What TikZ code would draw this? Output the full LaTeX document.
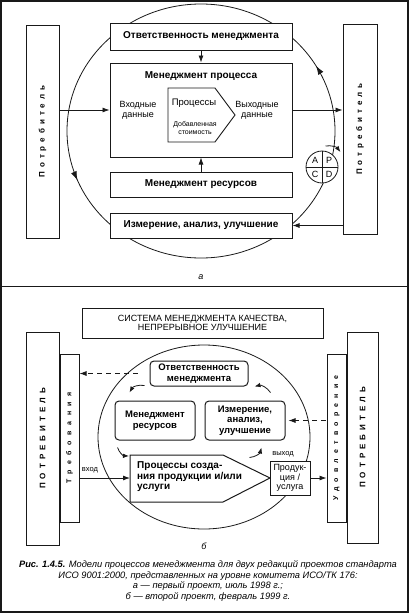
\documentclass[tikz,border=0pt]{standalone}
\usepackage{fontspec}
\setmainfont{Liberation Sans}
\usepackage{tikz}
\usetikzlibrary{arrows.meta,positioning,shapes.geometric,calc,decorations.markings}
\definecolor{inkblack}{RGB}{25,25,25}
\tikzset{
  blockbox/.style={
    rectangle,
    draw=inkblack,
    line width=1pt,
    fill=white,
    inner sep=1pt,
    align=center,
    font=\bfseries\fontsize{10}{11}\selectfont
  },
  roundbox/.style={
    blockbox,
    rounded corners=4pt,
    font=\bfseries\fontsize{9.5}{10.5}\selectfont
  },
  custbox/.style={
    rectangle,
    draw=inkblack,
    line width=1pt,
    fill=white,
    inner sep=0pt
  },
  vtext/.style={
    rotate=90,
    inner sep=0pt,
    font=\bfseries\fontsize{8}{9}\selectfont\addfontfeatures{LetterSpace=#1}
  },
  outline/.style={
    draw=inkblack,
    line width=1pt,
    fill=white
  },
  plain/.style={
    inner sep=0pt,
    align=center,
    font=\fontsize{9}{10}\selectfont
  },
  flow/.style={-{Latex[length=7pt,width=5pt]}, line width=0.8pt, inkblack},
  dashflow/.style={flow, dashed, dash pattern=on 5pt off 4pt},
  bentflow/.style={-{Latex[length=6pt,width=4.5pt]}, line width=0.8pt, inkblack}
}

\begin{document}
\begin{tikzpicture}[x=1pt,y=-1pt]
\useasboundingbox (0,0) rectangle (409,613);
\draw[line width=1.2pt, inkblack] (1,1) rectangle (408,612);
\draw[line width=1pt, inkblack] (1,286) -- (408,286);

% panel a
\draw[line width=0.8pt, inkblack, postaction={decorate}, decoration={markings,
  mark=at position 0.438 with {\arrowreversed{Latex[length=9pt,width=6pt]}},
  mark=at position 0.916 with {\arrowreversed{Latex[length=9pt,width=6pt]}}}]
  (201,131) ellipse [x radius=134, y radius=127];

\node[custbox, minimum width=33pt, minimum height=213pt] (custL) at (42.5,131.5) {};
\node[vtext=50] (custLtext) at (custL.center) {Потребитель};
\node[custbox, minimum width=34pt, minimum height=210pt] (custR) at (360,129) {};
\node[vtext=50] (custRtext) at (custR.center) {Потребитель};

\node[blockbox, minimum width=182pt, minimum height=27pt] (resp) at (201,36.5) {Ответственность менеджмента};
\node[blockbox, minimum width=182pt, minimum height=94pt] (proc) at (201,110) {};
\node[plain, font=\bfseries\fontsize{10}{11}\selectfont, below=9pt of proc.north] (procTitle) {Менеджмент процесса};
\node[blockbox, minimum width=182pt, minimum height=25pt] (res) at (201,184.5) {Менеджмент ресурсов};
\node[blockbox, minimum width=182pt, minimum height=25pt] (meas) at (201,225.5) {Измерение, анализ, улучшение};

\node[plain] (inA) at (138,110) {Входные\\данные};
\node[plain] (outA) at (257,110) {Выходные\\данные};
\draw[outline, line width=0.9pt] (168,88) -- (215,88) -- (235,115) -- (215,142) -- (168,142) -- cycle;
\node[plain, font=\fontsize{9.5}{10}\selectfont] (valueText) at (194,103) {Процессы};
\node[plain, font=\fontsize{7}{8}\selectfont] (addText) at (195,128) {Добавленная\\стоимость};

\draw[flow] (custL.east |- proc.west) -- (proc.west);
\draw[flow] (proc.east) -- (custR.west |- proc.east);
\draw[flow] (custR.west |- meas.east) -- (meas.east);
\draw[flow] (resp.south) -- (proc.north);
\draw[flow] (res.north) -- (proc.south);

\node[circle, draw=inkblack, fill=white, line width=0.8pt, minimum size=32pt, inner sep=0pt] (pdca) at (322,167) {};
\draw[line width=0.8pt, inkblack] (pdca.north) -- (pdca.south);
\draw[line width=0.8pt, inkblack] (pdca.west) -- (pdca.east);
\node[plain] (pdcaA) at ($(pdca.center)+(-7,-7)$) {A};
\node[plain] (pdcaP) at ($(pdca.center)+(7,-7)$) {P};
\node[plain] (pdcaC) at ($(pdca.center)+(-7,7)$) {C};
\node[plain] (pdcaD) at ($(pdca.center)+(7,7)$) {D};
\draw[bentflow] ($(custR.west)+(-17,17)$) to[bend left=30] ($(custR.west)+(-2,23)$);

\node[plain, font=\itshape\fontsize{9}{10}\selectfont] (labA) at (201,277) {а};

% panel b
\draw[line width=0.8pt, inkblack] (204,437) ellipse [x radius=106, y radius=92];

\node[blockbox, line width=0.9pt, minimum width=241pt, minimum height=30pt, font=\fontsize{9}{9.5}\selectfont] (sys) at (202.5,323) {СИСТЕМА МЕНЕДЖМЕНТА КАЧЕСТВА,\\НЕПРЕРЫВНОЕ УЛУЧШЕНИЕ};

\node[custbox, minimum width=33pt, minimum height=213pt] (custL2) at (42.5,438.5) {};
\node[vtext=50] (custL2text) at (custL2.center) {ПОТРЕБИТЕЛЬ};
\node[custbox, minimum width=19pt, minimum height=168pt] (req) at (69.5,438) {};
\node[vtext=80, font=\bfseries\fontsize{7}{8}\selectfont\addfontfeatures{LetterSpace=80}] (reqtext) at (req.center) {Требования};
\node[custbox, minimum width=19pt, minimum height=168pt] (sat) at (336.5,438) {};
\node[vtext=75, font=\bfseries\fontsize{7}{8}\selectfont\addfontfeatures{LetterSpace=75}] (sattext) at (sat.center) {Удовлетворение};
\node[custbox, minimum width=31pt, minimum height=211pt] (custR2) at (362.5,437.5) {};
\node[vtext=50] (custR2text) at (custR2.center) {ПОТРЕБИТЕЛЬ};

\node[roundbox, minimum width=98pt, minimum height=25pt] (respB) at (199,373.5) {Ответственность\\менеджмента};
\node[roundbox, minimum width=80pt, minimum height=39pt] (resB) at (155,420.5) {Менеджмент\\ресурсов};
\node[roundbox, minimum width=80pt, minimum height=39pt] (measB) at (245,420.5) {Измерение,\\анализ,\\улучшение};

\draw[outline] (130,455) -- (223,455) -- (270,478) -- (223,502) -- (130,502) -- cycle;
\coordinate (procIn) at (130,478);
\coordinate (procTop) at (130,455);
\node[plain, anchor=west, align=left, font=\bfseries\fontsize{10}{10.5}\selectfont] (procBtext) at (137,477) {Процессы созда-\\ния продукции и/или\\услуги};
\node[blockbox, minimum width=40pt, minimum height=34pt, inner sep=0pt, font=\fontsize{9}{9.5}\selectfont] (prod) at (290,478) {Продук-\\ция /\\услуга};
\node[plain, font=\fontsize{7.5}{8}\selectfont] (outB) at (283,454) {выход};
\node[plain, font=\fontsize{7.5}{8}\selectfont] (inB) at (90,470) {вход};

\draw[dashflow, shorten <=12pt] (respB.west) -- (respB.west -| req.east);
\draw[dashflow, shorten <=1pt, shorten >=3pt] (sat.west |- measB.east) -- (measB.east);
\draw[bentflow] ($(respB.south west)+(-5,-1)$) to[bend right=35] ($(resB.north west)+(15,-8)$);
\draw[bentflow] ($(measB.north east)+(-15,-8)$) to[bend right=35] ($(respB.south east)+(6,0)$);
\draw[bentflow] ($(resB.south west)+(3,7)$) to[bend right=35] ($(procTop)+(-1,1)$);
\draw[bentflow] ($(measB.south west)+(45,17)$) to[bend right=35] ($(measB.south west)+(57,7)$);
\draw[flow] (req.east |- procIn) -- (procIn);
\draw[flow] (prod.east) -- (sat.west |- prod.east);

\node[plain, font=\itshape\fontsize{9}{10}\selectfont] (labB) at (204,546) {б};

\node[plain, font=\itshape\fontsize{9.3}{10.7}\selectfont] (caption) at (208,581) {{\bfseries Рис. 1.4.5.} Модели процессов менеджмента для двух редакций проектов стандарта\\ИСО 9001:2000, представленных на уровне комитета ИСО/ТК 176:\\а — первый проект, июль 1998 г.;\\б — второй проект, февраль 1999 г.};
\end{tikzpicture}
\end{document}
